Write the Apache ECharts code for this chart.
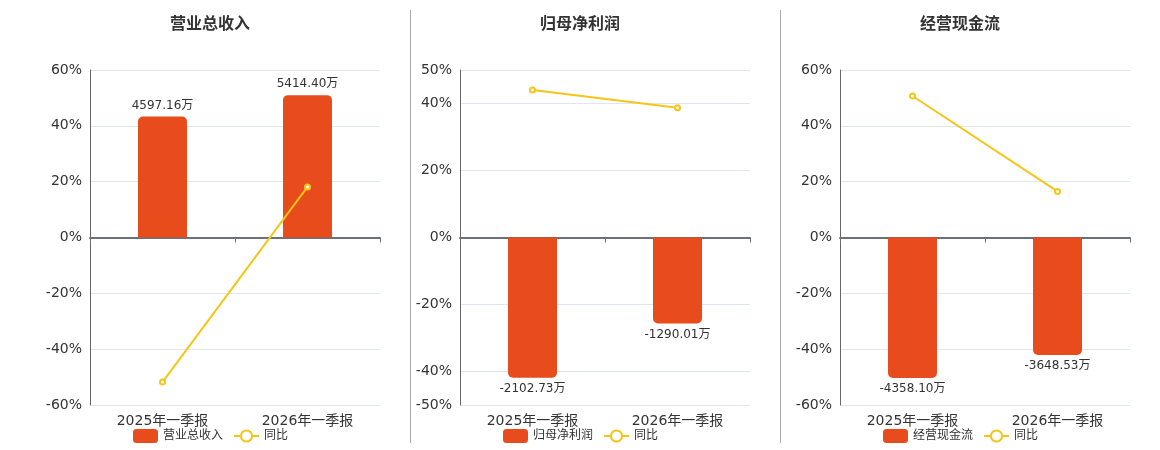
<!DOCTYPE html>
<html>
<head>
<meta charset="utf-8">
<script src="https://cdn.jsdelivr.net/npm/echarts@6/dist/echarts.min.js"></script>
<style>
  html, body { margin: 0; padding: 0; background: #fff; }
  #chart { width: 1160px; height: 450px; }
</style>
</head>
<body>
<div id="chart"></div>
<script>
// 报告期
var periods = ['2025年一季报', '2026年一季报']

// 金额（万元）与同比（%）
var revenue = [4597.16, 5414.40]
var revenueYoy = [-51.8, 18.1]
var netProfit = [-2102.73, -1290.01]
var netProfitYoy = [44.0, 38.7]
var cashFlow = [-4358.10, -3648.53]
var cashFlowYoy = [50.7, 16.5]

var panels = [
  { title: '营业总收入', values: revenue, yoy: revenueYoy, pct: 60, amount: 6370, left: 90 },
  { title: '归母净利润', values: netProfit, yoy: netProfitYoy, pct: 50, amount: 2510, left: 460 },
  { title: '经营现金流', values: cashFlow, yoy: cashFlowYoy, pct: 60, amount: 5200, left: 840 }
]

var gridWidth = 290
var barColor = '#E84B1C'
var lineColor = '#F5C518'

var option = {
  animation: false,
  textStyle: { fontFamily: 'DejaVu Sans, Noto Sans CJK SC, sans-serif' },
  title: [],
  legend: [],
  grid: [],
  xAxis: [],
  yAxis: [],
  series: [],
  graphic: [
    { type: 'line', shape: { x1: 410.5, y1: 10, x2: 410.5, y2: 443 }, style: { stroke: '#aaa', lineWidth: 1 } },
    { type: 'line', shape: { x1: 780.5, y1: 10, x2: 780.5, y2: 443 }, style: { stroke: '#aaa', lineWidth: 1 } }
  ]
}

panels.forEach(function (p, i) {
  var center = p.left + gridWidth / 2 - 25
  option.title.push({
    text: p.title,
    left: center - 5,
    top: 12,
    textAlign: 'center',
    textStyle: { fontSize: 16, fontWeight: 'bold', color: '#333' }
  })
  option.legend.push({
    data: [p.title, '同比'],
    left: center - 82,
    top: 424,
    itemGap: 10,
    itemWidth: 25,
    itemHeight: 14,
    textStyle: { fontSize: 12, color: '#333' }
  })
  option.grid.push({ left: p.left, width: gridWidth, top: 70, bottom: 45 })

  // 零线上的轴（线 + 刻度）
  option.xAxis.push({
    type: 'category',
    gridIndex: i,
    data: periods,
    axisLine: { onZero: true, onZeroAxisIndex: i * 2, lineStyle: { color: '#6E7079', width: 2 } },
    axisTick: { show: true, lineStyle: { color: '#6E7079' } },
    axisLabel: { show: false }
  })
  // 底部类目标签
  option.xAxis.push({
    type: 'category',
    gridIndex: i,
    position: 'bottom',
    data: periods,
    axisLine: { show: false, onZero: false },
    axisTick: { show: false },
    axisLabel: { fontSize: 14, color: '#333', margin: 9 }
  })

  var pctAxis = {
    type: 'value',
    gridIndex: i,
    min: -p.pct,
    max: p.pct,
    axisLine: { show: true, lineStyle: { color: '#666' } },
    axisTick: { show: false },
    axisLabel: { fontSize: 14, color: '#333', formatter: '{value}%' },
    splitLine: { lineStyle: { color: '#E0E6F1' } }
  }
  if (p.pct === 60) pctAxis.interval = 20
  option.yAxis.push(pctAxis)
  option.yAxis.push({
    type: 'value',
    gridIndex: i,
    min: -p.amount,
    max: p.amount,
    show: false,
    splitLine: { show: false }
  })

  option.series.push({
    name: p.title,
    type: 'bar',
    xAxisIndex: i * 2,
    yAxisIndex: i * 2 + 1,
    barWidth: 49,
    itemStyle: { color: barColor },
    label: {
      show: true,
      fontSize: 12,
      color: '#333',
      formatter: function (d) { return d.value.toFixed(2) + '万' }
    },
    data: p.values.map(function (v) {
      return {
        value: v,
        itemStyle: { borderRadius: v < 0 ? [0, 0, 5, 5] : [5, 5, 0, 0] },
        label: { position: v < 0 ? 'bottom' : 'top' }
      }
    })
  })
  option.series.push({
    name: '同比',
    type: 'line',
    xAxisIndex: i * 2,
    yAxisIndex: i * 2,
    symbol: 'emptyCircle',
    symbolSize: 5,
    itemStyle: { color: lineColor },
    lineStyle: { color: lineColor, width: 2 },
    data: p.yoy
  })
})

var chart = echarts.init(document.getElementById('chart'))
chart.setOption(option)
</script>
</body>
</html>
